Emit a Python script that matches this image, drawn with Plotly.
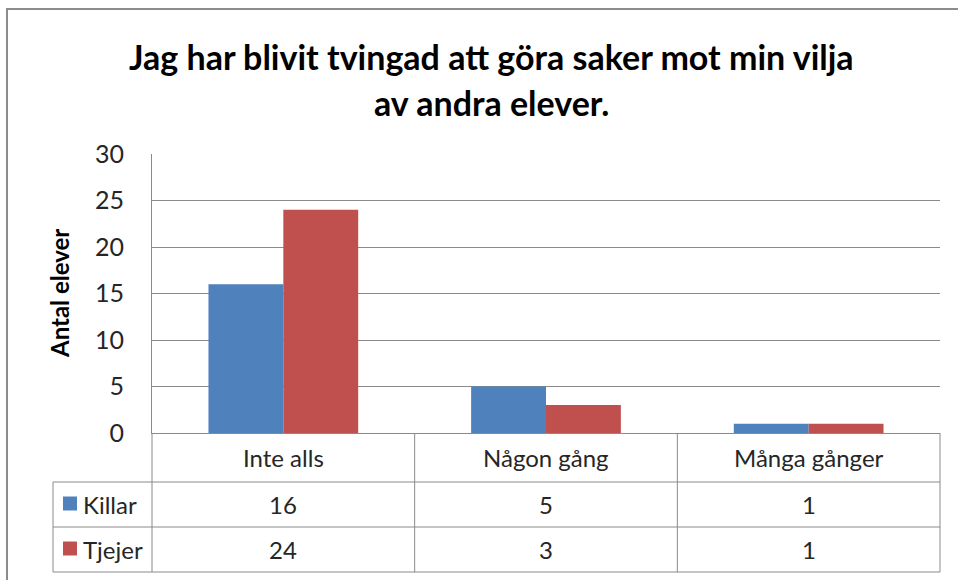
import plotly.graph_objects as go

categories = ["Inte alls", "Någon gång", "Många gånger"]
killar = [16, 5, 1]
tjejer = [24, 3, 1]
series_names = ["Killar", "Tjejer"]
y_ticks = [0, 5, 10, 15, 20, 25, 30]
title_lines = ["Jag har blivit tvingad att göra saker mot min vilja", "av andra elever."]
y_title = "Antal elever"

BLUE = "#4F81BD"
RED = "#C0504D"
GRID = "#8A8A8A"
FONT = "Lato"
TXT = "#262626"

W, H = 958, 580
L, R, T, B = 152, 18, 154, 147
PW, PH = W - L - R, H - T - B


def px(x):
    return (x - L) / PW


def py(y):
    return (H - B - y) / PH


fig = go.Figure()
fig.add_trace(go.Bar(x=categories, y=killar, name=series_names[0], marker_color=BLUE,
                     marker_line_width=0))
fig.add_trace(go.Bar(x=categories, y=tjejer, name=series_names[1], marker_color=RED,
                     marker_line_width=0))

shapes = []
ann = []

# outer frame (left + top)
shapes.append(dict(type="line", xref="paper", yref="paper", x0=px(7), x1=px(7), y0=py(8), y1=py(600),
                   line=dict(color="#8C8C8C", width=2)))
shapes.append(dict(type="line", xref="paper", yref="paper", x0=px(7), x1=px(970), y0=py(9), y1=py(9),
                   line=dict(color="#8C8C8C", width=2)))

tl = dict(color=GRID, width=1)
# table horizontal lines
for yy, x0 in [(482, 53), (527, 53), (572, 53)]:
    shapes.append(dict(type="line", xref="paper", yref="paper", x0=px(x0), x1=1, y0=py(yy), y1=py(yy), line=tl))
# table vertical lines
shapes.append(dict(type="line", xref="paper", yref="paper", x0=px(53), x1=px(53), y0=py(482), y1=py(572), line=tl))
shapes.append(dict(type="line", xref="paper", yref="paper", x0=0, x1=0, y0=0, y1=py(572), line=tl))
shapes.append(dict(type="line", xref="paper", yref="paper", x0=1, x1=1, y0=0, y1=py(572), line=tl))
for i in range(1, len(categories)):
    shapes.append(dict(type="line", xref="x", yref="paper", x0=i - 0.5, x1=i - 0.5, y0=0, y1=py(572), line=tl))

# legend keys in table
row_centers = [py(504.5), py(549.5)]
for c, yc in zip([BLUE, RED], [503.5, 548.5]):
    shapes.append(dict(type="rect", xref="paper", yref="paper", x0=px(63), x1=px(77),
                       y0=py(yc + 7), y1=py(yc - 7), fillcolor=c, line=dict(width=0)))
for name, yc in zip(series_names, row_centers):
    ann.append(dict(text=name, xref="paper", yref="paper", x=px(81), y=yc, xanchor="left", yanchor="middle",
                    showarrow=False, font=dict(family=FONT, size=24, color=TXT)))

# category labels and values
for i, cat in enumerate(categories):
    ann.append(dict(text=cat, xref="x", yref="paper", x=i, y=py(457.5), xanchor="center", yanchor="middle",
                    showarrow=False, font=dict(family=FONT, size=24, color=TXT)))
    for vals, yc in zip([killar, tjejer], row_centers):
        ann.append(dict(text=str(vals[i]), xref="x", yref="paper", x=i, y=yc, xanchor="center",
                        yanchor="middle", showarrow=False, font=dict(family=FONT, size=24, color=TXT)))

# title
for line, yc in zip(title_lines, [57, 102]):
    ann.append(dict(text="<b>" + line + "</b>", xref="paper", yref="paper", x=px(491), y=py(yc),
                    xanchor="center", yanchor="middle", showarrow=False,
                    font=dict(family=FONT, size=34, color="#000000")))

# y axis title
ann.append(dict(text="<b>" + y_title + "</b>", xref="paper", yref="paper", x=px(59), y=py(294),
                xanchor="center", yanchor="middle", textangle=-90, showarrow=False,
                font=dict(family=FONT, size=24, color="#000000")))

fig.update_layout(
    width=W, height=H,
    margin=dict(l=L, r=R, t=T, b=B, pad=0),
    paper_bgcolor="white", plot_bgcolor="white",
    barmode="group", bargap=0.43, bargroupgap=0,
    showlegend=False,
    shapes=shapes, annotations=ann,
    font=dict(family=FONT, color=TXT),
)
fig.update_xaxes(showticklabels=False, ticks="", showgrid=False, showline=True, linecolor=GRID, linewidth=1,
                 range=[-0.5, len(categories) - 0.5], zeroline=False)
fig.update_yaxes(range=[0, 30], tickvals=y_ticks, ticks="", showgrid=True, gridcolor=GRID, gridwidth=1,
                 showline=True, linecolor=GRID, linewidth=1, zeroline=False,
                 tickfont=dict(family=FONT, size=25, color=TXT), ticklabelstandoff=22)

fig.write_html("out.html", config={"displayModeBar": False},
               post_script="document.body.style.margin='0';document.body.style.overflow='hidden';")
